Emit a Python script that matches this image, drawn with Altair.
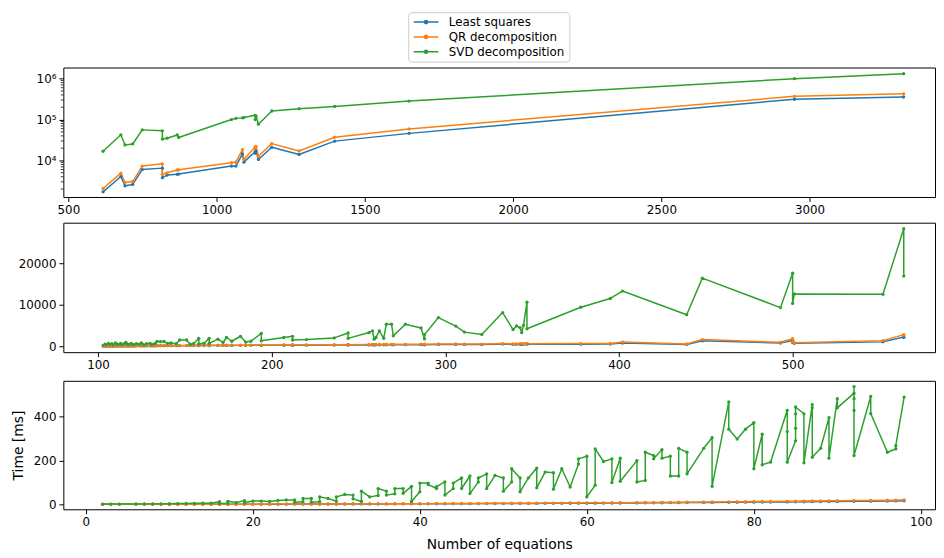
import altair as alt
import pandas as pd

SERIES = ["Least squares", "QR decomposition", "SVD decomposition"]
COLORS = ["#1f77b4", "#ff7f0e", "#2ca02c"]

# ---------------- Panel 1 (large systems, log scale) ----------------
p1_x = [617, 677, 691, 717, 749, 817, 817, 833, 867, 872, 1050, 1065, 1087, 1092,
        1130, 1130, 1133, 1141, 1186, 1278, 1398, 1649, 2949, 3317]
p1_svd = [16800, 42500, 24000, 25300, 56000, 53000, 33500, 35000, 42000, 36500, 100000, 107000,
          110000, 112000, 127000, 100000, 122000, 77000, 162000, 185000, 210000, 283000, 1000000, 1320000]
p1_qr = [2070, 4900, 2900, 3050, 7300, 8300, 4600, 5000, 5850, 5900, 8800, 9100,
         18500, 10500, 21500, 19000, 22000, 12700, 25800, 17100, 37000, 59000, 370000, 427000]
p1_ls = [1710, 4050, 2400, 2600, 6000, 6500, 3800, 4400, 4600, 4650, 7300, 7300,
         14500, 9100, 16500, 15000, 17000, 10600, 21000, 14000, 29700, 46000, 314000, 356000]
p1_minor = [2000, 3000, 4000, 5000, 6000, 7000, 8000, 9000,
            20000, 30000, 40000, 50000, 60000, 70000, 80000, 90000,
            200000, 300000, 400000, 500000, 600000, 700000, 800000, 900000]

# ---------------- Panel 2 (medium systems) ----------------
p2_x = [103, 104, 105, 106, 107, 108, 109, 110, 111, 112, 113, 114, 115, 116, 117, 118, 119, 120,
        121, 122, 124, 125, 126, 127, 128, 130, 131, 132, 133, 134, 136, 138, 140, 142, 145, 147,
        151, 153, 155, 158, 158, 161, 164, 164, 169, 172, 174, 177, 182, 185, 188, 194, 194, 207,
        212, 212, 220, 236, 244, 244, 256, 258, 259, 260, 262, 264.5, 266, 269, 270, 277, 286, 288,
        288, 296, 306, 311, 321, 333, 339, 341, 343, 344, 345, 347, 347, 378, 395, 402, 439, 448,
        493, 500, 500, 501, 552, 564, 564]
p2_svd = [200, 500, 300, 700, 400, 600, 250, 800, 500, 400, 700, 300, 600, 900, 500, 350, 700, 450,
          300, 650, 500, 800, 400, 300, 600, 700, 400, 500, 650, 1190, 1100, 1180, 700, 800, 600, 1500,
          1500, 500, 600, 1900, 550, 700, 1900, 700, 1700, 900, 2100, 1200, 2400, 1000, 1200, 3100, 1300, 2100,
          2400, 1500, 1600, 2000, 3200, 1900, 3300, 3700, 1700, 2100, 3700, 1900, 5300, 5300, 2500, 5300, 4400, 1750,
          2800, 6900, 4850, 3400, 2850, 8100, 4000, 4900, 4500, 3300, 5000, 10600, 4200, 9400, 11500, 13300, 7600, 16400,
          9300, 17600, 10300, 12600, 12500, 28300, 16900]
p2_qr = [60, 70, 60, 80, 70, 80, 70, 90, 80, 85, 90, 85, 95, 100, 95, 100, 110, 105,
         110, 115, 115, 120, 120, 125, 130, 130, 135, 140, 140, 150, 150, 160, 160, 165, 170, 180,
         185, 190, 195, 210, 200, 210, 225, 215, 230, 235, 245, 245, 260, 260, 270, 290, 280, 300,
         320, 310, 330, 360, 390, 380, 410, 420, 410, 420, 430, 430, 450, 460, 450, 470, 480, 470,
         480, 560, 540, 530, 520, 650, 560, 590, 600, 580, 610, 680, 620, 640, 660, 1000, 560, 1600,
         950, 1800, 1100, 850, 1350, 2800, 2700]
p2_ls = [40, 50, 45, 60, 55, 60, 50, 70, 60, 65, 70, 65, 75, 80, 75, 80, 85, 80,
         85, 90, 90, 95, 95, 100, 100, 105, 105, 110, 110, 120, 120, 125, 125, 130, 135, 140,
         145, 150, 155, 165, 160, 165, 175, 170, 180, 185, 190, 195, 205, 205, 210, 225, 220, 235,
         250, 245, 260, 285, 305, 300, 320, 330, 325, 330, 340, 340, 355, 360, 355, 370, 380, 370,
         375, 440, 425, 420, 410, 520, 440, 460, 470, 455, 480, 540, 490, 500, 520, 760, 430, 1300,
         780, 1400, 900, 700, 1050, 2200, 2150]

# ---------------- Panel 3 (small systems) ----------------
p3_x = [2, 3, 4, 6, 7, 8, 9, 10, 11, 12, 13, 14, 15,
        16, 16, 17, 17, 18, 19, 19, 20, 21, 22, 23, 24, 25, 25, 26, 26, 27, 27, 28, 28, 29, 30, 30,
        31, 32, 32, 33, 33, 34, 35, 35, 36, 36, 37, 37, 38, 38, 39, 39, 40, 40, 41, 41, 42, 42,
        43, 43, 44, 44, 45, 45, 46, 46, 47, 47, 48, 48, 49, 50, 50, 51, 51, 52, 52, 53, 54, 54,
        55, 56, 56, 57, 58, 59, 59, 60, 60, 61, 61, 62, 63, 63, 64, 64, 66, 66, 67, 67, 68, 68,
        69, 69, 70, 70, 71, 71, 72, 72, 74, 75, 75, 77, 77, 78, 79, 80, 80, 81, 81, 82, 84, 84,
        84, 85, 85, 85, 85, 86, 86, 87, 87, 87, 88, 89, 89, 90, 90, 92, 92, 92, 92, 92, 94, 94,
        96, 97, 97, 98]
p3_svd = [1.5, 1.2, 1.5, 1.8, 2.0, 2.2, 2.5, 3.0, 3.5, 4.0, 4.5, 5.0, 5.5,
          12, 4, 5, 14, 8, 17, 7, 15, 15, 13, 18, 20, 20, 10, 12, 27, 27, 10, 12, 34, 27, 14, 34,
          45, 42, 25, 13, 60, 34, 40, 72, 60, 42, 48, 72, 72, 50, 82, 13, 57, 97, 97, 90, 72, 81,
          102, 42, 72, 97, 120, 72, 129, 49, 102, 120, 139, 72, 132, 120, 60, 102, 162, 120, 57, 120, 165, 75,
          147, 144, 69, 162, 79, 184, 207, 219, 34, 87, 252, 195, 207, 99, 210, 105, 199, 102, 109, 237, 222, 207,
          249, 210, 219, 129, 129, 255, 237, 139, 255, 304, 82, 466, 342, 297, 342, 372, 162, 319, 180, 192, 428, 331,
          192, 289, 346, 412, 443, 412, 189, 454, 439, 214, 255, 394, 210, 481, 439, 506, 536, 481, 427, 222, 491, 413,
          237, 252, 267, 488]
p3q_x = [2, 3, 4, 6, 7, 8, 9, 10, 11, 12, 13, 14, 15,
         16, 17, 18, 19, 20, 21, 22, 23, 24, 25, 26, 27, 28, 29, 30,
         31, 32, 33, 34, 35, 36, 37, 38, 39, 40, 41, 42, 43, 44, 45, 46, 47, 48, 49, 50,
         51, 52, 53, 54, 55, 56, 57, 58, 59, 60, 61, 62, 63, 64,
         66, 67, 68, 69, 70, 71, 72, 74, 75, 77, 78, 79, 80, 81, 82,
         84, 85, 86, 87, 88, 89, 90, 92, 94, 96, 97, 98]
p3_qr = [0.2, 0.2, 0.2, 0.3, 0.3, 0.3, 0.4, 0.4, 0.4, 0.5, 0.5, 0.5, 0.6,
         0.7, 0.7, 0.8, 0.9, 0.9, 1.0, 1.1, 1.2, 1.3, 1.4, 1.5, 1.6, 1.7, 1.8, 1.9,
         2.0, 2.1, 2.2, 2.4, 2.5, 2.6, 2.7, 2.9, 3.0, 3.1, 3.3, 3.4, 3.5, 3.7, 3.9, 4.0, 4.2, 4.3, 4.5, 4.7,
         4.9, 5.0, 5.2, 5.4, 5.6, 5.8, 6.0, 6.3, 6.5, 6.7, 6.9, 7.2, 7.4, 7.7,
         8.2, 8.5, 8.8, 9.1, 9.4, 9.7, 10.0, 10.6, 11.0, 11.6, 11.9, 12.3, 12.6, 13.0, 13.3,
         14.0, 14.4, 14.8, 15.2, 15.6, 16.0, 16.4, 17.2, 18.0, 18.8, 19.2, 20.5]
p3_ls = [0.1, 0.1, 0.2, 0.2, 0.2, 0.2, 0.3, 0.3, 0.3, 0.4, 0.4, 0.4, 0.5,
         0.5, 0.6, 0.6, 0.7, 0.7, 0.8, 0.9, 0.9, 1.0, 1.1, 1.2, 1.3, 1.3, 1.4, 1.5,
         1.6, 1.7, 1.8, 1.9, 2.0, 2.1, 2.2, 2.3, 2.4, 2.5, 2.6, 2.7, 2.8, 3.0, 3.1, 3.2, 3.3, 3.5, 3.6, 3.7,
         3.9, 4.0, 4.2, 4.3, 4.5, 4.6, 4.8, 5.0, 5.2, 5.4, 5.5, 5.7, 5.9, 6.1,
         6.5, 6.8, 7.0, 7.3, 7.5, 7.8, 8.0, 8.5, 8.8, 9.3, 9.5, 9.8, 10.1, 10.4, 10.6,
         11.2, 11.5, 11.8, 12.2, 12.5, 12.8, 13.1, 13.8, 14.4, 15.0, 15.4, 16.4]

assert len(p1_x) == len(p1_svd) == len(p1_qr) == len(p1_ls)
assert len(p2_x) == len(p2_svd) == len(p2_qr) == len(p2_ls)
assert len(p3_x) == len(p3_svd)
assert len(p3q_x) == len(p3_qr) == len(p3_ls)


def to_long(parts):
    rows = []
    for name, xs, ys in parts:
        for i, (x, y) in enumerate(zip(xs, ys)):
            rows.append({"x": x, "y": y, "s": name, "i": i})
    return pd.DataFrame(rows)


df1 = to_long([(SERIES[0], p1_x, p1_ls), (SERIES[1], p1_x, p1_qr), (SERIES[2], p1_x, p1_svd)])
df2 = to_long([(SERIES[0], p2_x, p2_ls), (SERIES[1], p2_x, p2_qr), (SERIES[2], p2_x, p2_svd)])
df3 = to_long([(SERIES[0], p3q_x, p3_ls), (SERIES[1], p3q_x, p3_qr), (SERIES[2], p3_x, p3_svd)])

FONT = "DejaVu Sans"
W = 882

# legend glyph: short line with a dot, drawn wider than the nominal symbol box
LEG_PATH = "M-2.5,0L2.5,0M0.32,0A0.32,0.32,0,1,1,-0.32,0A0.32,0.32,0,1,1,0.32,0Z"


def panel(df, xdom, xticks, ydom, yticks, height, ytype="linear", legend=None,
          xtitle=None, ytitle=None, ylabelexpr=None, minor=None):
    yaxis_kw = dict(values=yticks, title=ytitle)
    if ylabelexpr:
        yaxis_kw["labelExpr"] = ylabelexpr
    else:
        yaxis_kw["format"] = "d"
    if ytitle:
        yaxis_kw["titlePadding"] = 8
    yenc = alt.Y("y:Q", scale=alt.Scale(type=ytype, domain=ydom, nice=False, zero=False),
                 axis=alt.Axis(**yaxis_kw))
    xaxis_kw = dict(values=xticks, format="d", title=xtitle)
    if xtitle:
        xaxis_kw["titlePadding"] = 10
    xenc = alt.X("x:Q", scale=alt.Scale(domain=xdom, nice=False, zero=False),
                 axis=alt.Axis(**xaxis_kw))
    color = alt.Color("s:N", scale=alt.Scale(domain=SERIES, range=COLORS), legend=legend)
    base = alt.Chart(df).encode(x=xenc, y=yenc, color=color, order=alt.Order("i:Q"))
    line = base.mark_line(strokeWidth=1.5, strokeJoin="round", clip=True)
    pts = base.mark_circle(size=11, opacity=1, clip=True)
    layers = [line, pts]
    if minor is not None:
        mdf = pd.DataFrame({"y": minor})
        rule = alt.Chart(mdf).mark_rule(color="black", strokeWidth=0.8).encode(
            y=yenc, x=alt.value(0), x2=alt.value(-2.6))
        layers.append(rule)
    return alt.layer(*layers).properties(width=W, height=height)


legend = alt.Legend(
    orient="none", legendX=349, legendY=-56, direction="vertical", title=None,
    symbolType=LEG_PATH, symbolSize=100, symbolStrokeWidth=1.5, symbolOffset=8,
    labelFont=FONT, labelFontSize=12, labelColor="black", labelOffset=17,
    rowPadding=3, padding=4, strokeColor="#cccccc", fillColor="white", cornerRadius=3,
)

c1 = panel(df1, [483, 3423], [500, 1000, 1500, 2000, 2500, 3000], [1280, 1870000],
           [10000, 100000, 1000000], 131, ytype="log", legend=legend,
           ylabelexpr="datum.value == 10000 ? '10\u2074' : datum.value == 100000 ? '10\u2075' : '10\u2076'",
           minor=p1_minor)
c2 = panel(df2, [80, 582], [100, 200, 300, 400, 500], [-1430, 29760], [0, 10000, 20000], 131)
c3 = panel(df3, [-2.7, 101.7], [0, 20, 40, 60, 80, 100], [-22.5, 562], [0, 200, 400], 130,
           xtitle="Number of equations", ytitle="Time [ms]")

top = alt.vconcat(c1, c2, spacing=6).resolve_scale(color="independent")
chart = alt.vconcat(top, c3, spacing=9).resolve_scale(color="independent").properties(
    padding={"left": 3, "top": 0, "right": 0, "bottom": 0}, background="white"
).configure_view(stroke="black", strokeWidth=1).configure_axis(
    grid=False, domain=False, tickColor="black", tickSize=4.5, tickWidth=1,
    labelFont=FONT, labelFontSize=12, labelColor="black", labelPadding=3,
    titleFont=FONT, titleFontSize=14, titleFontWeight="normal", titleColor="black", titlePadding=5,
)

chart.save("out.html", embed_options={"renderer": "svg", "actions": False})
